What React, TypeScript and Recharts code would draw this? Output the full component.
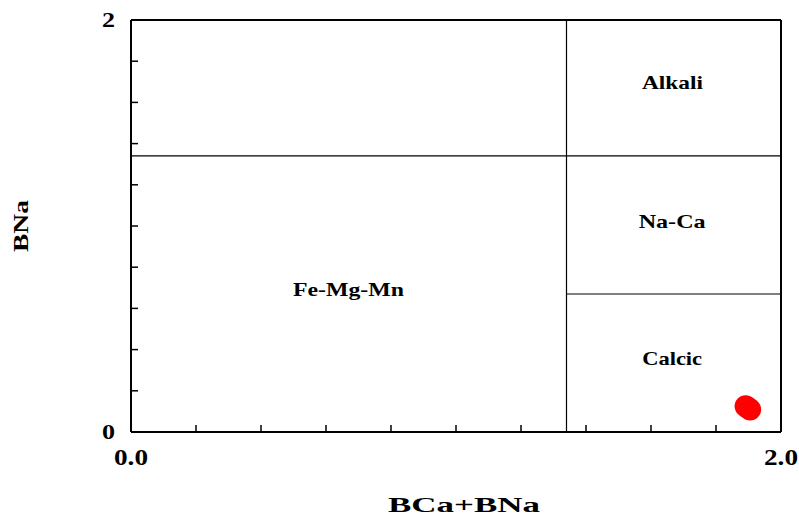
import React from 'react';
import {
  ScatterChart,
  Scatter,
  XAxis,
  YAxis,
  ReferenceLine,
  ReferenceDot,
  Label,
} from 'recharts';

// BCa+BNa vs BNa, amphibole groups
const sampleX = [1.891, 1.898, 1.905];
const sampleY = [0.125, 0.118, 0.109];

const axisTicks = [0, 0.2, 0.4, 0.6, 0.8, 1.0, 1.2, 1.4, 1.6, 1.8, 2.0];
const xTickLabels: Record<number, string> = { 0: '0.0', 2: '2.0' };
const yTickLabels: Record<number, string> = { 0: '0', 2: '2' };

const calcicLimit = 1.34;
const naCaLower = 0.67;
const alkaliLower = 1.34;

const regionNames = ['Alkali', 'Na-Ca', 'Calcic', 'Fe-Mg-Mn'];
const regionX = [1.666, 1.665, 1.665, 0.669];
const regionY = [1.699, 1.024, 0.358, 0.693];
const regionWidths = [61, 67, 60, 111];

const samples = sampleX.map((x, i) => ({ x, y: sampleY[i] }));

const FONT = '"Liberation Serif", "Times New Roman", serif';
const W = 799;
const H = 519;

const BottomTick = (props: any) => {
  const { x, y, payload } = props;
  const v = Number(payload?.value);
  const label = xTickLabels[v];
  return (
    <g>
      {!label && <line x1={x} x2={x} y1={y} y2={y - 7} stroke="#000" strokeWidth={1.5} />}
      {label && (
        <text
          x={x}
          y={y + 33}
          textAnchor="middle"
          fontFamily={FONT}
          fontWeight="bold"
          fontSize={24}
          fill="#000"
          textLength={34}
          lengthAdjust="spacingAndGlyphs"
        >
          {label}
        </text>
      )}
    </g>
  );
};

const TopTick = (props: any) => {
  const { x, y, payload } = props;
  const v = Number(payload?.value);
  if (v === 0 || v === 2) return <g />;
  return <line x1={x} x2={x} y1={y} y2={y + 7} stroke="#000" strokeWidth={1.5} />;
};

const LeftTick = (props: any) => {
  const { x, y, payload } = props;
  const v = Number(payload?.value);
  const label = yTickLabels[v];
  return (
    <g>
      {!label && <line x1={x} x2={x + 7} y1={y} y2={y} stroke="#000" strokeWidth={1.5} />}
      {label && (
        <text
          x={x - 16}
          y={y + 7}
          textAnchor="end"
          fontFamily={FONT}
          fontWeight="bold"
          fontSize={21}
          fill="#000"
          textLength={13}
          lengthAdjust="spacingAndGlyphs"
        >
          {label}
        </text>
      )}
    </g>
  );
};

const RightTick = (props: any) => {
  const { x, y, payload } = props;
  const v = Number(payload?.value);
  if (v === 0 || v === 2) return <g />;
  return <line x1={x} x2={x - 7} y1={y} y2={y} stroke="#000" strokeWidth={1.5} />;
};

const XTitle = (props: any) => {
  const vb = props.viewBox || {};
  return (
    <text
      x={vb.x + vb.width / 2 + 8}
      y={vb.y + 80}
      textAnchor="middle"
      fontFamily={FONT}
      fontWeight="bold"
      fontSize={22}
      fill="#000"
      textLength={152}
      lengthAdjust="spacingAndGlyphs"
    >
      BCa+BNa
    </text>
  );
};

const YTitle = (props: any) => {
  const vb = props.viewBox || {};
  const cx = 28;
  const cy = vb.y + vb.height / 2;
  return (
    <text
      x={cx}
      y={cy}
      transform={`rotate(-90, ${cx}, ${cy})`}
      textAnchor="middle"
      fontFamily={FONT}
      fontWeight="bold"
      fontSize={22}
      fill="#000"
      textLength={52}
      lengthAdjust="spacingAndGlyphs"
    >
      BNa
    </text>
  );
};

const regionLabel = (name: string, width: number) => (props: any) => {
  const vb = props.viewBox || {};
  const cx = vb.x + (vb.width || 0) / 2;
  const cy = vb.y + (vb.height || 0) / 2;
  return (
    <text
      x={cx}
      y={cy + 6.5}
      textAnchor="middle"
      fontFamily={FONT}
      fontWeight="bold"
      fontSize={19}
      fill="#000"
      textLength={width}
      lengthAdjust="spacingAndGlyphs"
    >
      {name}
    </text>
  );
};

const Dot = (props: any) => <circle cx={props.cx} cy={props.cy} r={11} fill="#ff0000" />;

const axisLineStyle = { stroke: '#000', strokeWidth: 2 };

export default function App() {
  return (
    <div style={{ position: 'absolute', left: 0, top: 0, width: W, height: H, background: '#fff' }}>
      <ScatterChart width={W} height={H} margin={{ top: 19, right: 17, bottom: 86, left: 130 }}>
        <XAxis
          type="number"
          dataKey="x"
          domain={[0, 2]}
          ticks={axisTicks}
          interval={0}
          height={1}
          tickSize={0}
          tickMargin={0}
          tickLine={false}
          tick={BottomTick}
          axisLine={axisLineStyle}
          allowDataOverflow
        >
          <Label content={XTitle} />
        </XAxis>
        <XAxis
          xAxisId="top"
          orientation="top"
          type="number"
          domain={[0, 2]}
          ticks={axisTicks}
          interval={0}
          height={1}
          tickSize={0}
          tickMargin={0}
          tickLine={false}
          tick={TopTick}
          axisLine={axisLineStyle}
        />
        <YAxis
          type="number"
          dataKey="y"
          domain={[0, 2]}
          ticks={axisTicks}
          interval={0}
          width={1}
          tickSize={0}
          tickMargin={0}
          tickLine={false}
          tick={LeftTick}
          axisLine={axisLineStyle}
          allowDataOverflow
        >
          <Label content={YTitle} />
        </YAxis>
        <YAxis
          yAxisId="right"
          orientation="right"
          type="number"
          domain={[0, 2]}
          ticks={axisTicks}
          interval={0}
          width={1}
          tickSize={0}
          tickMargin={0}
          tickLine={false}
          tick={RightTick}
          axisLine={axisLineStyle}
        />
        <ReferenceLine x={calcicLimit} stroke="#000" strokeWidth={1.2} />
        <ReferenceLine y={alkaliLower} stroke="#000" strokeWidth={1.2} />
        <ReferenceLine
          segment={[
            { x: calcicLimit, y: naCaLower },
            { x: 2, y: naCaLower },
          ]}
          stroke="#000"
          strokeWidth={1.2}
        />
        {regionNames.map((name, i) => (
          <ReferenceDot
            key={name}
            x={regionX[i]}
            y={regionY[i]}
            r={0}
            fill="none"
            stroke="none"
            label={{ content: regionLabel(name, regionWidths[i]) }}
          />
        ))}
        <Scatter data={samples} shape={Dot} isAnimationActive={false} />
      </ScatterChart>
    </div>
  );
}
